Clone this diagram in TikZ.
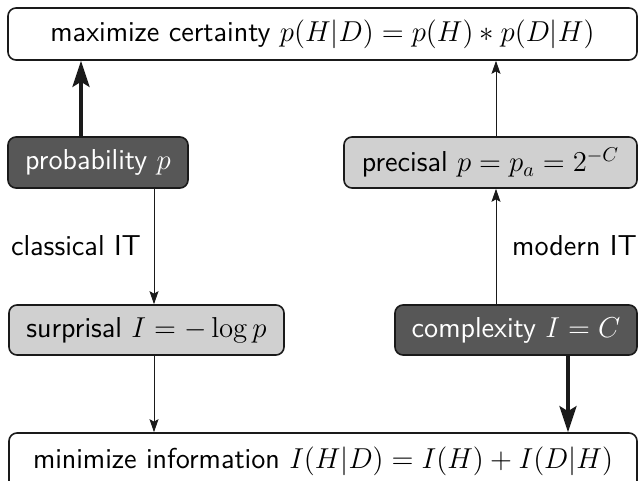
\documentclass[tikz,border=0pt]{standalone}
\usetikzlibrary{arrows.meta}
\definecolor{darkfill}{HTML}{575757}
\definecolor{lightfill}{HTML}{D0D0D0}
\definecolor{edgecol}{HTML}{1A1A1A}
\begin{document}
\begin{tikzpicture}[x=0.5pt,y=-0.5pt,
  font=\sffamily\fontsize{14.4}{17}\selectfont,
  basebox/.style={draw=edgecol,line width=0.8pt,rounded corners=4pt,inner sep=0pt,anchor=center},
  whitebox/.style={basebox,fill=white,text=black},
  darkbox/.style={basebox,fill=darkfill,text=white},
  lightbox/.style={basebox,fill=lightfill,text=black},
  thinarrow/.style={draw=edgecol,line width=0.5pt,-{Stealth[length=6.5pt,width=4.5pt,inset=1.2pt]}},
  thickarrow/.style={draw=edgecol,line width=2pt,-{Stealth[length=13pt,width=8.5pt,inset=2.5pt]}},
  lbl/.style={text=black,inner sep=0pt,anchor=center}]
\useasboundingbox (0,0) rectangle (639,481);
\node[whitebox,minimum width=314.5pt,minimum height=26pt] (top) at (322.5,34)
  {maximize certainty $p(H|D) = p(H) * p(D|H)$};
\node[darkbox,minimum width=90pt,minimum height=25.5pt] (prob) at (98,162.5)
  {probability $p$};
\node[lightbox,minimum width=146.5pt,minimum height=25.5pt] (prec) at (490.5,162.5)
  {precisal $p = p_a = 2^{-C}$};
\node[lightbox,minimum width=137.5pt,minimum height=25pt] (surp) at (146.5,330)
  {surprisal $I = -\log p$};
\node[darkbox,minimum width=121pt,minimum height=25pt] (comp) at (516,330)
  {complexity $I = C$};
\node[whitebox,minimum width=314pt,minimum height=28pt] (bot) at (323,461)
  {minimize information $I(H|D) = I(H) + I(D|H)$};
\node[lbl] (classical) at (76,246) {classical IT};
\node[lbl] (modern) at (574.5,246) {modern IT};
\coordinate (xa) at (81,0);
\coordinate (xb) at (154,0);
\coordinate (xc) at (496,0);
\coordinate (xd) at (568,0);
\draw[thickarrow] (prob.north -| xa) -- (top.south -| xa);
\draw[thinarrow] (prob.south -| xb) -- (surp.north -| xb);
\draw[thinarrow] (surp.south -| xb) -- (bot.north -| xb);
\draw[thinarrow] (comp.north -| xc) -- (prec.south -| xc);
\draw[thinarrow] (prec.north -| xc) -- (top.south -| xc);
\draw[thickarrow] (comp.south -| xd) -- (bot.north -| xd);
\end{tikzpicture}
\end{document}
